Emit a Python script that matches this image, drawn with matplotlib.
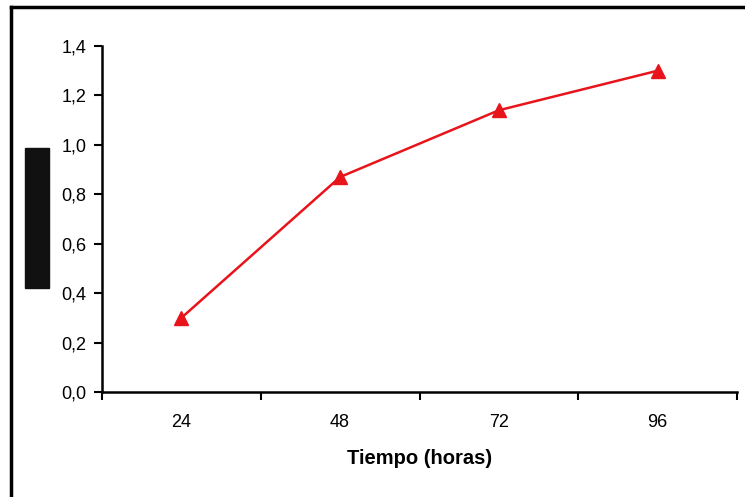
import matplotlib.pyplot as plt
from matplotlib.patches import Rectangle
from matplotlib.lines import Line2D

# growth over time
tiempo = ["24", "48", "72", "96"]
valores = [0.30, 0.87, 1.14, 1.30]
yticks = [0.0, 0.2, 0.4, 0.6, 0.8, 1.0, 1.2, 1.4]

plt.rcParams['font.family'] = ['Liberation Sans', 'DejaVu Sans']

fig = plt.figure(figsize=(7.45, 4.97), dpi=100)
W, H = 745, 497

# axes box in pixels: left 102, right 737, top 46, bottom 392
ax = fig.add_axes([102 / W, 1 - 392 / H, (737 - 102) / W, (392 - 46) / H])

xpos = list(range(len(tiempo)))
ax.plot(xpos, valores, color="#e8141c", lw=1.8, marker="^", ms=10,
        markerfacecolor="#e8141c", markeredgecolor="#e8141c", clip_on=False)

ax.set_xlim(-0.5, len(tiempo) - 0.5)
ax.set_ylim(0, 1.4)

ax.set_yticks(yticks)
ax.set_yticklabels([f"{v:.1f}".replace(".", ",") for v in yticks], fontsize=13)
ax.set_xticks(xpos)
ax.set_xticklabels(tiempo, fontsize=13)
ax.tick_params(axis="x", length=0, pad=16)
ax.tick_params(axis="y", length=6, width=1.5, direction="out", pad=5)

# category boundary ticks below the x axis
ax.set_xticks([i - 0.5 for i in range(len(tiempo) + 1)], minor=True)
ax.tick_params(axis="x", which="minor", length=6, width=1.5, direction="out")

for s in ["top", "right"]:
    ax.spines[s].set_visible(False)
for s in ["left", "bottom"]:
    ax.spines[s].set_linewidth(1.8)

ax.set_xlabel("Tiempo (horas)", fontsize=14.5, fontweight="bold", labelpad=13)

# outer frame (top and left edges)
fig.add_artist(Line2D([11 / W, 11 / W], [0, 1 - 7 / H], color="black", lw=2.5,
                      transform=fig.transFigure))
fig.add_artist(Line2D([11 / W, 1], [1 - 7 / H, 1 - 7 / H], color="black", lw=2.5,
                      transform=fig.transFigure))

# black block over the y label
fig.add_artist(Rectangle((25 / W, 1 - 288 / H), 24 / W, 140 / H,
                         color="#111111", transform=fig.transFigure))

fig.savefig("out.png", dpi=100)
